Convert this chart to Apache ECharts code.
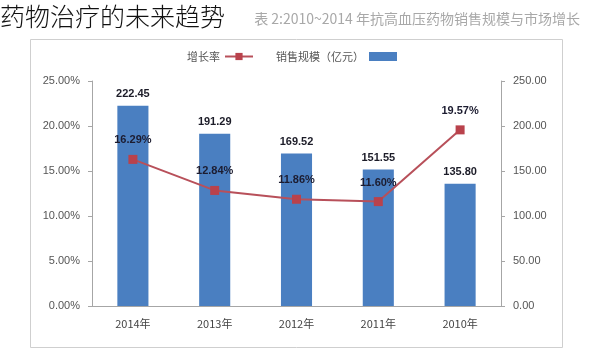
<!DOCTYPE html>
<html>
<head>
<meta charset="utf-8">
<script src="https://cdn.jsdelivr.net/npm/echarts@6/dist/echarts.min.js"></script>
<style>html,body{margin:0;padding:0;background:#fff}#c{width:600px;height:361px}</style>
</head>
<body>
<div id="c"></div>
<script>
var categories = ['2014年', '2013年', '2012年', '2011年', '2010年'];
var salesValues = [222.45, 191.29, 169.52, 151.55, 135.80];
var growthValues = [16.29, 12.84, 11.86, 11.60, 19.57];
var pctTicks = [0, 5, 10, 15, 20, 25];
var valTicks = [0, 50, 100, 150, 200, 250];

var chart = echarts.init(document.getElementById('c'), null, {renderer: 'canvas'});
var axisLineStyle = {color: '#a6a6a6', width: 1};
chart.setOption({
  animation: false,
  backgroundColor: '#ffffff',
  graphic: [
    {type: 'rect', shape: {x: 30.5, y: 39.5, width: 532, height: 308}, style: {fill: 'none', stroke: '#cfcfcf', lineWidth: 1}, z: 0},
    {type: 'text', right: 20, top: 12, style: {text: '表 2:2010~2014 年抗高血压药物销售规模与市场增长', fill: '#a8a8a8', font: '14px "Noto Sans CJK SC"'}, z: 1},
    {type: 'rect', shape: {x: 0, y: 3, width: 232, height: 34}, style: {fill: 'rgba(255,255,255,0.85)'}, z: 2},
    {type: 'text', left: 0, top: 4, style: {text: '药物治疗的未来趋势', fill: '#111', font: '300 25px "Noto Sans CJK SC"'}, z: 3}
  ],
  legend: {
    left: 182, top: 46, align: 'right', itemGap: 22,
    itemWidth: 28, itemHeight: 9,
    textStyle: {fontSize: 11, color: '#555', fontFamily: 'Noto Sans CJK SC'},
    data: [
      {name: '增长率'},
      {name: '销售规模（亿元）', icon: 'rect'}
    ]
  },
  grid: {left: 92, right: 99, top: 81, bottom: 55},
  xAxis: {
    type: 'category', data: categories,
    axisLine: {lineStyle: axisLineStyle}, axisTick: {show: false},
    axisLabel: {color: '#444', fontSize: 11, margin: 12, fontFamily: 'Noto Sans CJK SC'}
  },
  yAxis: [
    {
      type: 'value', min: pctTicks[0], max: pctTicks[pctTicks.length - 1], interval: 5, position: 'left',
      axisLine: {show: true, lineStyle: axisLineStyle}, axisTick: {show: true, length: 4, lineStyle: axisLineStyle},
      splitLine: {show: false},
      axisLabel: {color: '#555', fontSize: 11, margin: 12, formatter: function (v) { return v.toFixed(2) + '%'; }}
    },
    {
      type: 'value', min: valTicks[0], max: valTicks[valTicks.length - 1], interval: 50, position: 'right',
      axisLine: {show: true, lineStyle: axisLineStyle}, axisTick: {show: true, length: 4, lineStyle: axisLineStyle},
      splitLine: {show: false},
      axisLabel: {color: '#555', fontSize: 11, margin: 12, formatter: function (v) { return v.toFixed(2); }}
    }
  ],
  series: [
    {
      name: '销售规模（亿元）', type: 'bar', yAxisIndex: 1, data: salesValues,
      barWidth: '38%', itemStyle: {color: '#4a7fc1'},
      label: {show: true, position: 'top', distance: 6, color: '#1c1c28', fontSize: 11, fontWeight: 'bold',
        formatter: function (p) { return p.value.toFixed(2); }},
      z: 2
    },
    {
      name: '增长率', type: 'line', yAxisIndex: 0, data: growthValues,
      lineStyle: {color: '#b8505a', width: 2}, itemStyle: {color: '#b9424c'},
      symbol: 'rect', symbolSize: 9,
      label: {show: true, position: 'top', distance: 9, color: '#1c1c30', fontSize: 11, fontWeight: 'bold',
        formatter: function (p) { return p.value.toFixed(2) + '%'; }},
      z: 3
    }
  ]
});
</script>
</body>
</html>
